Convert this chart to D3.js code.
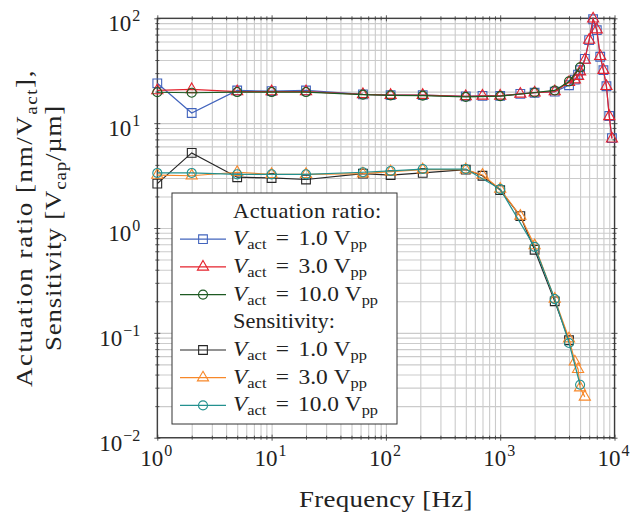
<!DOCTYPE html>
<html>
<head>
<meta charset="utf-8">
<script src="https://cdn.jsdelivr.net/npm/d3@7"></script>
<style>
  body { margin: 0; background: #fff; }
  svg text { font-family: "Liberation Serif", "DejaVu Serif", serif; fill: #222; }
</style>
</head>
<body>
<svg id="chart" width="633" height="522"></svg>
<script>
// actuation ratio [nm/V_act]
var freqAct1 = [1, 2, 5, 10, 20, 63, 110, 210, 500, 700, 1000, 1500, 2000, 3000, 4000, 4500, 4800, 5000, 5500, 6000, 6500, 7000, 7500, 8000, 8500, 9000, 9500];
var act1V = [24, 12.5, 20.5, 20.2, 20.5, 18.8, 18.5, 18.5, 18, 18.2, 18.2, 19, 19.5, 20, 23, 26, 29, 32, 41, 62, 98, 77, 43, 32, 22.5, 11.7, 7.2];
var freqAct3 = freqAct1;
var act3V = [20.5, 21, 20, 20, 20, 18.8, 18.5, 18.5, 18, 18.2, 18.2, 19, 19.5, 20, 24.5, 26, 28, 31, 40, 62, 99, 78, 43.5, 32, 22.5, 11.6, 7.1];
var freqAct10 = [1, 2, 5, 10, 20, 63, 110, 210, 500, 1000, 2000, 3000, 4000, 5000];
var act10V = [19.7, 19.5, 19.8, 19.8, 19.8, 18.7, 18.4, 18.3, 17.8, 18.1, 19.6, 20.5, 25, 34];

// sensitivity [V_cap/um]
var freqSens1 = [1, 2, 5, 10, 20, 63, 110, 210, 500, 700, 1000, 1500, 2000, 3000, 4000];
var sens1V = [2.65, 5.2, 3.05, 3.0, 2.9, 3.3, 3.2, 3.35, 3.6, 3.15, 2.3, 1.3, 0.62, 0.2, 0.085];
var freqSens3 = [1, 2, 5, 10, 20, 63, 110, 210, 500, 700, 1000, 1500, 2000, 3000, 4000, 4500, 4800, 5000, 5500];
var sens3V = [3.2, 3.15, 3.4, 3.25, 3.25, 3.3, 3.45, 3.6, 3.6, 3.2, 2.35, 1.3, 0.68, 0.21, 0.088, 0.053, 0.045, 0.03, 0.0245];
var freqSens10 = [1, 2, 5, 10, 20, 63, 110, 210, 500, 1000, 2000, 3000, 4000, 5000];
var sens10V = [3.35, 3.35, 3.25, 3.25, 3.25, 3.4, 3.5, 3.65, 3.65, 2.35, 0.66, 0.21, 0.08, 0.032];

var xTickExp = [0, 1, 2, 3, 4];
var yTickExp = [-2, -1, 0, 1, 2];
var legendHeads = ["Actuation ratio:", "Sensitivity:"];
var legendVolts = ["1.0", "3.0", "10.0"];

var series = [
  { f: freqAct1, v: act1V, color: "#4264bd", mark: "square", volt: legendVolts[0] },
  { f: freqAct3, v: act3V, color: "#e5222d", mark: "triangle", volt: legendVolts[1] },
  { f: freqAct10, v: act10V, color: "#1d5a22", mark: "circle", volt: legendVolts[2] },
  { f: freqSens1, v: sens1V, color: "#262626", mark: "square", volt: legendVolts[0] },
  { f: freqSens3, v: sens3V, color: "#f7882a", mark: "triangle", volt: legendVolts[1] },
  { f: freqSens10, v: sens10V, color: "#23918f", mark: "circle", volt: legendVolts[2] }
];

var svg = d3.select("#chart");
var margin = { left: 157.3, top: 18.3, right: 18.5, bottom: 84.3 };
var W = 633, H = 522;
var w = W - margin.left - margin.right;
var h = H - margin.top - margin.bottom;

var x = d3.scaleLog().domain([1, 1e4]).range([0, w]);
var y = d3.scaleLog().domain([1e-2, 1e2]).range([h, 0]);

var g = svg.append("g").attr("transform", "translate(" + margin.left + "," + margin.top + ")");

// widen a text (placed at 0,0 inside a positioned group) to the width of the
// Computer Modern original: a little horizontal stretch, the rest as spacing
function fitWidth(t, target) {
  var bw = t.node().getComputedTextLength();
  var n = t.text().length;
  var k = Math.min(1.12, target / bw);
  var ls = (target / k - bw) / n;
  t.attr("transform", "scale(" + k.toFixed(3) + ",1)");
  if (ls > 0) t.attr("letter-spacing", ls.toFixed(2));
  return t;
}

var xMajor = xTickExp.map(function(e) { return Math.pow(10, e); });
var yMajor = yTickExp.map(function(e) { return Math.pow(10, e); });
var xMinor = [], yMinor = [];
xTickExp.slice(0, -1).forEach(function(e) {
  for (var k = 2; k < 10; k++) xMinor.push(k * Math.pow(10, e));
});
yTickExp.slice(0, -1).forEach(function(e) {
  for (var k = 2; k < 10; k++) yMinor.push(k * Math.pow(10, e));
});

// grid
var gridColor = "#cbcbcb";
g.append("g").attr("class", "grid")
    .attr("transform", "translate(0," + h + ")")
    .call(d3.axisBottom(x).tickValues(xMinor.concat(xMajor)).tickSize(-h).tickFormat(""))
    .call(function(s) { s.select(".domain").remove(); })
    .selectAll("line").attr("stroke", gridColor).attr("stroke-width", 1.1);
g.append("g").attr("class", "grid")
    .call(d3.axisLeft(y).tickValues(yMinor.concat(yMajor)).tickSize(-w).tickFormat(""))
    .call(function(s) { s.select(".domain").remove(); })
    .selectAll("line").attr("stroke", gridColor).attr("stroke-width", 1.1);

// ticks (centred on the frame, all four sides)
function ticks(axisFn, scale, vals, size, tx, ty) {
  g.append("g")
      .attr("transform", "translate(" + tx + "," + ty + ")")
      .call(axisFn(scale).tickValues(vals).tickSize(size).tickFormat(""))
      .call(function(s) { s.select(".domain").remove(); })
      .selectAll("line").attr("stroke", "#444").attr("stroke-width", 0.9);
}
ticks(d3.axisBottom, x, xMajor, 6, 0, h - 3);
ticks(d3.axisBottom, x, xMinor, 4, 0, h - 2);
ticks(d3.axisBottom, x, xMajor, 6, 0, -3);
ticks(d3.axisBottom, x, xMinor, 4, 0, -2);
ticks(d3.axisRight, y, yMajor, 6, -3, 0);
ticks(d3.axisRight, y, yMinor, 4, -2, 0);
ticks(d3.axisRight, y, yMajor, 6, w - 3, 0);
ticks(d3.axisRight, y, yMinor, 4, w - 2, 0);

// frame
g.append("rect").attr("width", w).attr("height", h)
    .attr("fill", "none").attr("stroke", "#3a3a3a").attr("stroke-width", 1.3);

// tick labels
function powLabel(sel, e) {
  sel.append("tspan").text("10");
  sel.append("tspan").attr("dy", -10).attr("dx", 1).attr("font-size", 16)
      .text(e < 0 ? "\u2212" + (-e) : String(e));
}
xTickExp.forEach(function(e) {
  var t = g.append("text").attr("x", x(Math.pow(10, e)) - 1).attr("y", h + 28)
      .attr("text-anchor", "middle").attr("font-size", 23);
  powLabel(t, e);
});
yTickExp.forEach(function(e) {
  var t = g.append("text").attr("x", -17).attr("y", y(Math.pow(10, e)) + 13)
      .attr("text-anchor", "end").attr("font-size", 23);
  powLabel(t, e);
});

// axis labels
var xl = g.append("g").attr("transform", "translate(" + (w / 2) + "," + (h + 69) + ")");
fitWidth(xl.append("text").attr("text-anchor", "middle").attr("font-size", 24).text("Frequency [Hz]"), 174);

var yl = svg.append("g").attr("transform", "translate(0," + (margin.top + h / 2) + ") rotate(-90)");
var l1 = yl.append("g").attr("transform", "translate(0,32)")
    .append("text").attr("text-anchor", "middle").attr("font-size", 24);
l1.append("tspan").text("Actuation ratio [nm/V");
l1.append("tspan").attr("dy", 5).attr("font-size", 17).text("act");
l1.append("tspan").attr("dy", -5).text("],");
fitWidth(l1, 318);
var l2 = yl.append("g").attr("transform", "translate(0,61)")
    .append("text").attr("text-anchor", "middle").attr("font-size", 24);
l2.append("tspan").text("Sensitivity [V");
l2.append("tspan").attr("dy", 5).attr("font-size", 17).text("cap");
l2.append("tspan").attr("dy", -5).text("/\u00b5m]");
fitWidth(l2, 246);

// markers
function drawMark(sel, mark, color) {
  var sym = mark === "square" ? d3.symbolSquare : mark === "triangle" ? d3.symbolTriangle : d3.symbolCircle;
  var size = mark === "square" ? 76 : mark === "triangle" ? 54 : 64;
  sel.append("path")
      .attr("d", d3.symbol().type(sym).size(size))
      .attr("fill", "none")
      .attr("stroke", color)
      .attr("stroke-width", 1.1);
}

var line = d3.line().x(function(d) { return x(d[0]); }).y(function(d) { return y(d[1]); });

series.forEach(function(s) {
  var pts = s.f.map(function(f, i) { return [f, s.v[i]]; });
  var sg = g.append("g");
  sg.append("path").datum(pts).attr("d", line)
      .attr("fill", "none").attr("stroke", s.color).attr("stroke-width", 1.2);
  sg.selectAll("g.mk").data(pts).enter().append("g").attr("class", "mk")
      .attr("transform", function(d) { return "translate(" + x(d[0]) + "," + y(d[1]) + ")"; })
      .each(function() { drawMark(d3.select(this), s.mark, s.color); });
});

// legend
var lg = svg.append("g").attr("transform", "translate(172,193)");
lg.append("rect").attr("width", 225).attr("height", 231)
    .attr("fill", "#fff").attr("stroke", "#333").attr("stroke-width", 1);
var rowH = 27.7, row0 = 18.5;
function legendRow(i, s) {
  var cy = row0 + i * rowH;
  lg.append("line").attr("x1", 8).attr("x2", 54).attr("y1", cy).attr("y2", cy)
      .attr("stroke", s.color).attr("stroke-width", 1.2);
  var m = lg.append("g").attr("transform", "translate(31," + cy + ")");
  drawMark(m, s.mark, s.color);
  var t = lg.append("g").attr("transform", "translate(61," + (cy + 6) + ")")
      .append("text").attr("font-size", 20);
  t.append("tspan").attr("font-style", "italic").text("V");
  t.append("tspan").attr("dy", 4).attr("font-size", 14).text("act");
  t.append("tspan").attr("dy", -4).attr("dx", 8).text("=");
  t.append("tspan").attr("dx", 8).text(s.volt);
  t.append("tspan").attr("dx", 5).text("V");
  t.append("tspan").attr("dy", 4).attr("font-size", 14).text("pp");
  var bw = t.node().getBBox().width;
  var k = (s.volt.length > 3 ? 145 : 134) / bw;
  t.attr("transform", "scale(" + k.toFixed(3) + ",1)");
}
function legendHead(i, label, width) {
  var t = lg.append("g").attr("transform", "translate(61," + (row0 + i * rowH + 6) + ")")
      .append("text").attr("font-size", 20).text(label);
  fitWidth(t, width);
}
legendHead(0, legendHeads[0], 149);
series.slice(0, 3).forEach(function(s, i) { legendRow(i + 1, s); });
legendHead(4, legendHeads[1], 102);
series.slice(3).forEach(function(s, i) { legendRow(i + 5, s); });
</script>
</body>
</html>
